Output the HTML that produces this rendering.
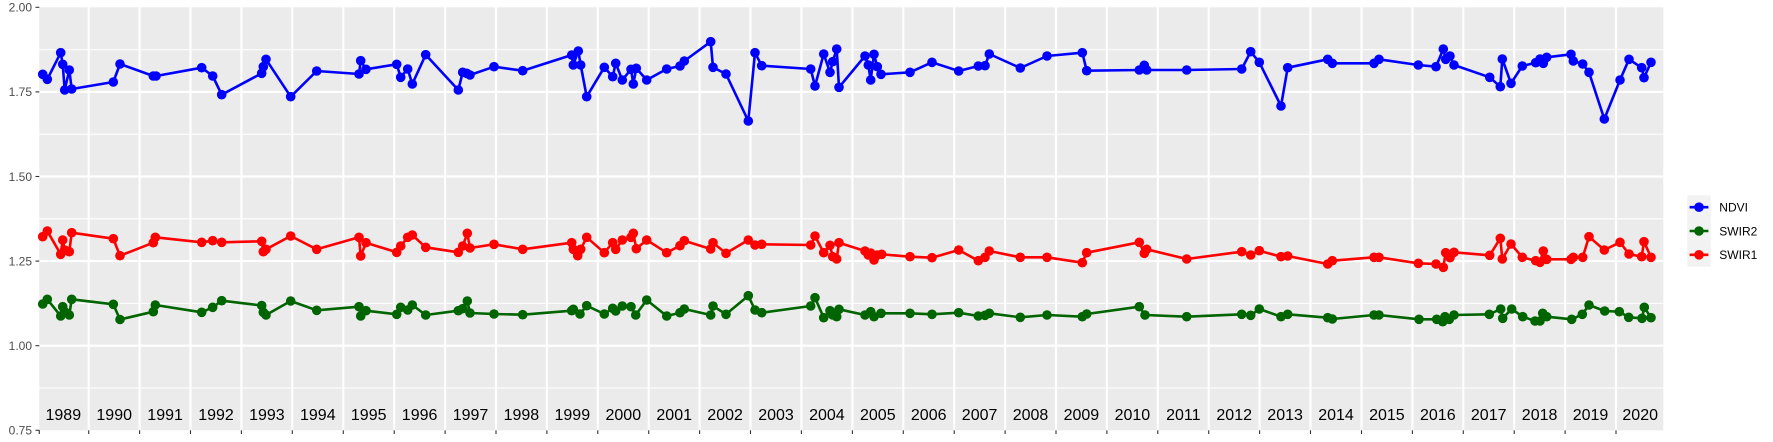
<!DOCTYPE html>
<html>
<head>
<meta charset="utf-8">
<style>
html,body{margin:0;padding:0;background:#fff;}
svg{display:block;}
text{font-family:"Liberation Sans",Arial,sans-serif;}
</style>
</head>
<body>
<svg width="1773" height="442" viewBox="0 0 1773 442" xmlns="http://www.w3.org/2000/svg">
<defs>
<marker id="mb" markerWidth="12" markerHeight="12" refX="6" refY="6" markerUnits="userSpaceOnUse"><circle cx="6" cy="6" r="4.8" fill="#0000FF"/></marker>
<marker id="mg" markerWidth="12" markerHeight="12" refX="6" refY="6" markerUnits="userSpaceOnUse"><circle cx="6" cy="6" r="4.8" fill="#006400"/></marker>
<marker id="mr" markerWidth="12" markerHeight="12" refX="6" refY="6" markerUnits="userSpaceOnUse"><circle cx="6" cy="6" r="4.8" fill="#FF0000"/></marker>
</defs>
<rect x="0" y="0" width="1773" height="442" fill="#fff"/>
<!-- panel -->
<rect x="39.3" y="7.3" width="1624" height="423" fill="#EBEBEB"/>
<!-- minor horizontal grid -->
<g stroke="#fff" stroke-width="1.07">
<line x1="39.3" x2="1663.3" y1="49.6" y2="49.6"/>
<line x1="39.3" x2="1663.3" y1="134.2" y2="134.2"/>
<line x1="39.3" x2="1663.3" y1="218.8" y2="218.8"/>
<line x1="39.3" x2="1663.3" y1="303.4" y2="303.4"/>
<line x1="39.3" x2="1663.3" y1="388" y2="388"/>
</g>
<!-- major horizontal grid -->
<g stroke="#fff" stroke-width="2.13">
<line x1="39.3" x2="1663.3" y1="91.9" y2="91.9"/>
<line x1="39.3" x2="1663.3" y1="176.5" y2="176.5"/>
<line x1="39.3" x2="1663.3" y1="261.1" y2="261.1"/>
<line x1="39.3" x2="1663.3" y1="345.7" y2="345.7"/>
</g>
<!-- vertical grid -->
<g stroke="#fff" stroke-width="2.13">
<line x1="88.7" x2="88.7" y1="7.3" y2="430.3"/>
<line x1="139.6" x2="139.6" y1="7.3" y2="430.3"/>
<line x1="190.5" x2="190.5" y1="7.3" y2="430.3"/>
<line x1="241.4" x2="241.4" y1="7.3" y2="430.3"/>
<line x1="292.3" x2="292.3" y1="7.3" y2="430.3"/>
<line x1="343.3" x2="343.3" y1="7.3" y2="430.3"/>
<line x1="394.2" x2="394.2" y1="7.3" y2="430.3"/>
<line x1="445.1" x2="445.1" y1="7.3" y2="430.3"/>
<line x1="496.0" x2="496.0" y1="7.3" y2="430.3"/>
<line x1="546.9" x2="546.9" y1="7.3" y2="430.3"/>
<line x1="597.8" x2="597.8" y1="7.3" y2="430.3"/>
<line x1="648.7" x2="648.7" y1="7.3" y2="430.3"/>
<line x1="699.6" x2="699.6" y1="7.3" y2="430.3"/>
<line x1="750.5" x2="750.5" y1="7.3" y2="430.3"/>
<line x1="801.4" x2="801.4" y1="7.3" y2="430.3"/>
<line x1="852.4" x2="852.4" y1="7.3" y2="430.3"/>
<line x1="903.3" x2="903.3" y1="7.3" y2="430.3"/>
<line x1="954.2" x2="954.2" y1="7.3" y2="430.3"/>
<line x1="1005.1" x2="1005.1" y1="7.3" y2="430.3"/>
<line x1="1056.0" x2="1056.0" y1="7.3" y2="430.3"/>
<line x1="1106.9" x2="1106.9" y1="7.3" y2="430.3"/>
<line x1="1157.8" x2="1157.8" y1="7.3" y2="430.3"/>
<line x1="1208.7" x2="1208.7" y1="7.3" y2="430.3"/>
<line x1="1259.6" x2="1259.6" y1="7.3" y2="430.3"/>
<line x1="1310.5" x2="1310.5" y1="7.3" y2="430.3"/>
<line x1="1361.5" x2="1361.5" y1="7.3" y2="430.3"/>
<line x1="1412.4" x2="1412.4" y1="7.3" y2="430.3"/>
<line x1="1463.3" x2="1463.3" y1="7.3" y2="430.3"/>
<line x1="1514.2" x2="1514.2" y1="7.3" y2="430.3"/>
<line x1="1565.1" x2="1565.1" y1="7.3" y2="430.3"/>
<line x1="1616.0" x2="1616.0" y1="7.3" y2="430.3"/>
</g>

<!-- year labels -->
<g font-size="16" fill="#000" text-anchor="middle">
<text x="63.3" y="420">1989</text>
<text x="114.2" y="420">1990</text>
<text x="165.1" y="420">1991</text>
<text x="216.0" y="420">1992</text>
<text x="266.9" y="420">1993</text>
<text x="317.8" y="420">1994</text>
<text x="368.7" y="420">1995</text>
<text x="419.6" y="420">1996</text>
<text x="470.5" y="420">1997</text>
<text x="521.4" y="420">1998</text>
<text x="572.3" y="420">1999</text>
<text x="623.3" y="420">2000</text>
<text x="674.2" y="420">2001</text>
<text x="725.1" y="420">2002</text>
<text x="776.0" y="420">2003</text>
<text x="826.9" y="420">2004</text>
<text x="877.8" y="420">2005</text>
<text x="928.7" y="420">2006</text>
<text x="979.6" y="420">2007</text>
<text x="1030.5" y="420">2008</text>
<text x="1081.4" y="420">2009</text>
<text x="1132.4" y="420">2010</text>
<text x="1183.3" y="420">2011</text>
<text x="1234.2" y="420">2012</text>
<text x="1285.1" y="420">2013</text>
<text x="1336.0" y="420">2014</text>
<text x="1386.9" y="420">2015</text>
<text x="1437.8" y="420">2016</text>
<text x="1488.7" y="420">2017</text>
<text x="1539.6" y="420">2018</text>
<text x="1590.5" y="420">2019</text>
<text x="1640.2" y="420">2020</text>
</g>

<!-- NDVI -->
<polyline fill="none" stroke="#0000FF" stroke-width="2.6" stroke-linejoin="round" marker-start="url(#mb)" marker-mid="url(#mb)" marker-end="url(#mb)" points="42.7,74.3 47.3,79.3 60.7,52.7 62.7,64.3 64.7,90 69.3,70 71.7,89 113.3,82 120,64 153.3,76 156,76 201.7,67.7 212.7,76 221.7,94.7 261.7,73.3 263.3,66.7 266,59.3 290.7,96.7 316.7,71 359,74 360.7,60.7 366,69.3 396.7,64.3 400.7,77.3 407.7,69 412.3,84 425.7,54.7 458.3,90 462.7,72.3 466.7,73.3 470,75 494,66.7 522.7,70.7 571.7,55 573.3,65 578.3,51 580.7,65 586.7,96.7 604.3,67.3 612.7,76.7 615.7,63.3 622.3,80 631,69.3 633.3,84 636.3,68.3 646.7,80 666.7,69 680,66 684.3,61 710.7,41.7 713,67.3 726,74 748.3,121 755,52.7 761.7,65.7 810.7,69 815,86 823.7,54 830,72.3 832.7,61.7 836.7,49 839,87.3 865,56 868.3,65 870.7,80 874,54.3 877.3,66.7 881,74.3 910,72.3 932,62.3 958.7,71 978.3,66 985,65.7 989.3,54 1020.3,68 1047,56 1082.3,52.7 1086.7,70.7 1139.3,70 1144.3,65.3 1146.7,70 1186.7,70 1241.7,69 1250.7,51.7 1259.3,62.3 1281,106 1287.7,67.7 1327.7,59.3 1332.3,63.3 1374,63.3 1379,59.3 1418.3,65 1436,66.7 1443.3,49 1445.7,59.3 1450,56 1454,65 1489.7,77.3 1500.3,86.7 1502.3,59 1511,83.3 1522.3,66 1535.7,62.7 1540,59 1543.3,63.3 1546.7,57.3 1571,54.3 1573.3,61 1582.7,64 1589,72.3 1604.3,119 1620,80 1629,59.3 1641.7,67.7 1644,77.7 1651,62.3"/>

<!-- SWIR2 -->
<polyline fill="none" stroke="#006400" stroke-width="2.6" stroke-linejoin="round" marker-start="url(#mg)" marker-mid="url(#mg)" marker-end="url(#mg)" points="42.7,304 47.3,299.3 60.7,316 62.7,306.7 64.7,311.7 69.3,315 71.7,299.3 113.3,304.3 120,319.5 153.3,311.7 155.3,305 201.7,312.3 212.7,307.3 221.7,300.7 261.7,305.5 263.3,312.3 266,315 290.7,301 316.7,310.3 359,306.7 360.7,316 366,310.7 396.7,314.3 400.7,307.3 407.7,310 412.3,305 425.7,315 458.3,310.7 462.7,308.7 467.3,301 470,313 494,314 522.7,314.7 571.7,310.7 573.3,309.3 580,314 586.7,305.7 604.3,314 612.7,308.3 615.7,311 622.3,306 631,306.7 635.7,315 646.7,300 666.7,316 680,312.7 684.3,309 710.7,315 713,306 726,314.3 748.3,295.7 755,310 761.7,312.7 810.7,306 815,297.7 823.7,317.7 830,310.7 832.7,315 836.7,316.7 839,309.3 865,315 870.7,311.7 874,316.7 881,313.3 910,313.3 932,314.3 958.7,312.7 978.3,316 985,315.3 989.3,313.3 1020.3,317.3 1047,315 1082.3,316.7 1086.7,314 1139.3,306.7 1145,315 1186.7,316.7 1241.7,314.3 1250.7,315.3 1259.3,309 1281,316.7 1287.7,314.3 1327.7,317.7 1332.3,319 1374,315 1379,315 1419,319.3 1436.7,319.3 1442.7,321.7 1445,316.7 1449.3,319.3 1454,315 1489.3,314.3 1500.7,309 1502.7,318.3 1511.7,309 1522.7,316.7 1535,321 1540,321 1542.7,313.3 1546.7,316.7 1571.7,319.3 1582.3,314.3 1589,305 1604.7,311 1619.3,311.7 1628.7,317.3 1642,318.3 1644.3,307.3 1651,317.7"/>

<!-- SWIR1 -->
<polyline fill="none" stroke="#FF0000" stroke-width="2.6" stroke-linejoin="round" marker-start="url(#mr)" marker-mid="url(#mr)" marker-end="url(#mr)" points="42.7,236.7 47.3,231 60.7,254.3 62.7,240 64.7,250 69.3,251.7 71.7,232.7 113.3,238.7 120,255.7 153.3,242.7 155.3,237.3 201.7,242.3 212.7,240.7 221.7,242.3 261.7,241.3 263.3,251.7 266,249.3 290.7,236 316.7,249.3 359,237.3 360.7,256 366,242.7 396.7,252.3 400.7,246 407.7,237.3 412.3,235 425.7,247.3 458.3,252.3 462.7,246 467.3,233.3 470,248 494,244.3 522.7,249.3 571.7,242.7 573.3,249.3 577.7,255.7 580.7,249.3 586.7,237.3 604.3,252.7 612.7,242.7 615.7,249.3 622.3,240 631,237.3 633.3,233.3 636.3,248.7 646.7,240 666.7,252.7 680,245.7 684.3,240.7 710.7,249 713,242.7 726,253.3 748.3,240 755,245 761.7,244.3 810.7,245 815,236 823.7,252.7 830,245.3 832.7,256.7 836.7,259 839,242.7 865,251 868.3,255 870.7,253 874,260 877.3,255 881.7,254.3 910,256.7 932,257.7 958.7,250 978.3,260.7 985,257.3 989.3,251 1020.3,257.3 1047,257.3 1082.3,262.7 1086.7,252.7 1139.3,242.3 1144.3,253.3 1146.7,249.3 1186.7,259 1241.7,251.7 1250.7,255 1259.3,250.7 1281,256.7 1287.7,256 1327.7,264 1332.3,260.7 1374,257.3 1379,257.3 1418.3,263.3 1436,264 1443.3,267.3 1445.7,252.7 1450,257.7 1454,252.3 1489.7,255.3 1500.3,238.3 1502.3,259 1511,244 1522.3,257.3 1535.7,260.7 1540,262.3 1543.3,251 1546.7,259.3 1571,259.3 1573.3,257.3 1582.7,257.3 1589,236.7 1604.3,250 1620,242.3 1629,254 1641.7,256.7 1644,241.7 1651,257.3"/>

<!-- axis ticks -->
<g stroke="#333333" stroke-width="1.1">
<line x1="35.5" x2="39.3" y1="7.3" y2="7.3"/>
<line x1="35.5" x2="39.3" y1="91.9" y2="91.9"/>
<line x1="35.5" x2="39.3" y1="176.5" y2="176.5"/>
<line x1="35.5" x2="39.3" y1="261.1" y2="261.1"/>
<line x1="35.5" x2="39.3" y1="345.7" y2="345.7"/>
<line x1="35.5" x2="39.3" y1="430.3" y2="430.3"/>
<line x1="39.3" x2="39.3" y1="430.3" y2="434"/>
<line x1="88.7" x2="88.7" y1="430.3" y2="434"/>
<line x1="139.6" x2="139.6" y1="430.3" y2="434"/>
<line x1="190.5" x2="190.5" y1="430.3" y2="434"/>
<line x1="241.4" x2="241.4" y1="430.3" y2="434"/>
<line x1="292.3" x2="292.3" y1="430.3" y2="434"/>
<line x1="343.3" x2="343.3" y1="430.3" y2="434"/>
<line x1="394.2" x2="394.2" y1="430.3" y2="434"/>
<line x1="445.1" x2="445.1" y1="430.3" y2="434"/>
<line x1="496.0" x2="496.0" y1="430.3" y2="434"/>
<line x1="546.9" x2="546.9" y1="430.3" y2="434"/>
<line x1="597.8" x2="597.8" y1="430.3" y2="434"/>
<line x1="648.7" x2="648.7" y1="430.3" y2="434"/>
<line x1="699.6" x2="699.6" y1="430.3" y2="434"/>
<line x1="750.5" x2="750.5" y1="430.3" y2="434"/>
<line x1="801.4" x2="801.4" y1="430.3" y2="434"/>
<line x1="852.4" x2="852.4" y1="430.3" y2="434"/>
<line x1="903.3" x2="903.3" y1="430.3" y2="434"/>
<line x1="954.2" x2="954.2" y1="430.3" y2="434"/>
<line x1="1005.1" x2="1005.1" y1="430.3" y2="434"/>
<line x1="1056.0" x2="1056.0" y1="430.3" y2="434"/>
<line x1="1106.9" x2="1106.9" y1="430.3" y2="434"/>
<line x1="1157.8" x2="1157.8" y1="430.3" y2="434"/>
<line x1="1208.7" x2="1208.7" y1="430.3" y2="434"/>
<line x1="1259.6" x2="1259.6" y1="430.3" y2="434"/>
<line x1="1310.5" x2="1310.5" y1="430.3" y2="434"/>
<line x1="1361.5" x2="1361.5" y1="430.3" y2="434"/>
<line x1="1412.4" x2="1412.4" y1="430.3" y2="434"/>
<line x1="1463.3" x2="1463.3" y1="430.3" y2="434"/>
<line x1="1514.2" x2="1514.2" y1="430.3" y2="434"/>
<line x1="1565.1" x2="1565.1" y1="430.3" y2="434"/>
<line x1="1616.0" x2="1616.0" y1="430.3" y2="434"/>
</g>
<!-- y axis labels -->
<g font-size="12" fill="#4D4D4D" text-anchor="end">
<text x="32" y="11.6">2.00</text>
<text x="32" y="96.2">1.75</text>
<text x="32" y="180.8">1.50</text>
<text x="32" y="265.4">1.25</text>
<text x="32" y="350">1.00</text>
<text x="32" y="434.6">0.75</text>
</g>

<!-- legend -->
<rect x="1687.3" y="195.3" width="23.4" height="23.8" fill="#F2F2F2"/>
<rect x="1687.3" y="219.1" width="23.4" height="23.8" fill="#F2F2F2"/>
<rect x="1687.3" y="242.9" width="23.4" height="23.8" fill="#F2F2F2"/>
<line x1="1689.6" x2="1708.4" y1="207.2" y2="207.2" stroke="#0000FF" stroke-width="2.6"/>
<circle cx="1699" cy="207.2" r="4.8" fill="#0000FF"/>
<line x1="1689.6" x2="1708.4" y1="231" y2="231" stroke="#006400" stroke-width="2.6"/>
<circle cx="1699" cy="231" r="4.8" fill="#006400"/>
<line x1="1689.6" x2="1708.4" y1="254.8" y2="254.8" stroke="#FF0000" stroke-width="2.6"/>
<circle cx="1699" cy="254.8" r="4.8" fill="#FF0000"/>
<g font-size="12" fill="#000">
<text x="1719.3" y="211.5">NDVI</text>
<text x="1719.3" y="235.3">SWIR2</text>
<text x="1719.3" y="259.1">SWIR1</text>
</g>
</svg>
</body>
</html>
